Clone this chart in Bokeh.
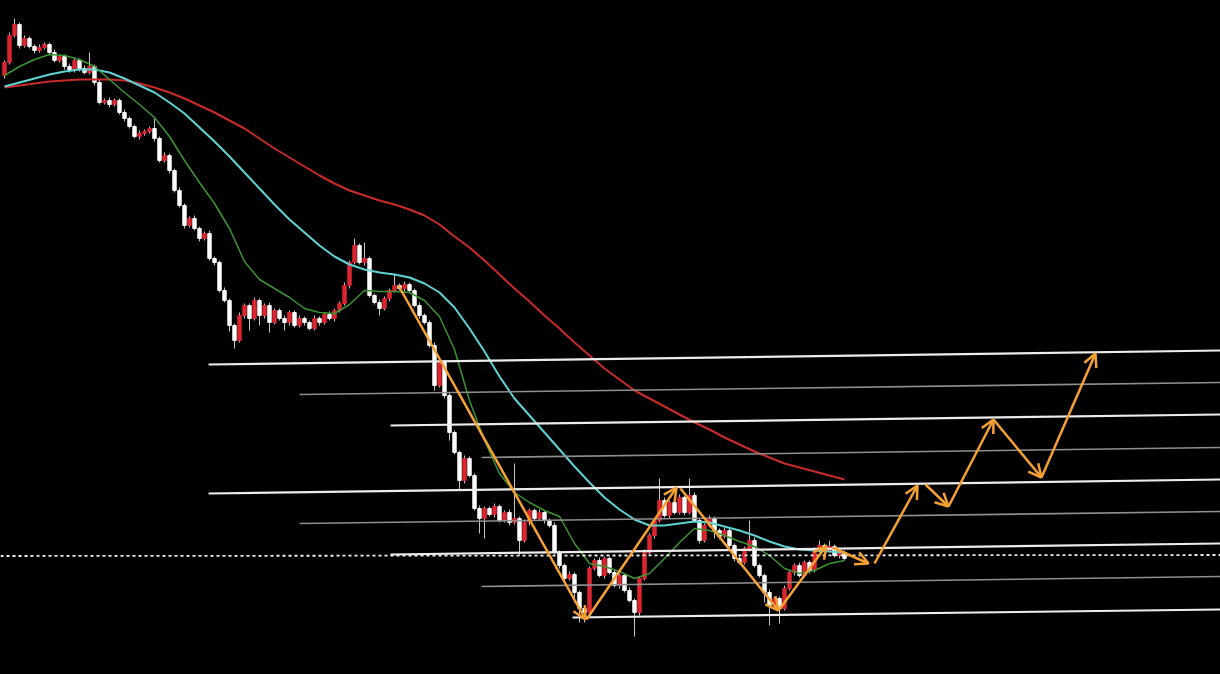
from bokeh.plotting import figure
from bokeh.models import Range1d, ColumnDataSource, Arrow, OpenHead
from bokeh.embed import file_html
from bokeh.resources import INLINE

# ---------------- data (price units) ----------------
first_open = 625
closes = [
    638, 665, 676, 655, 662, 654, 650, 653, 656, 648,
    640, 644, 634, 630, 640, 632, 628, 634, 618, 598,
    600, 596, 600, 588, 582, 574, 564, 567, 569, 572,
    562, 540, 545, 530, 510, 495, 475, 482, 472, 462,
    467, 442, 438, 410, 400, 375, 360, 385, 395, 382,
    400, 385, 395, 378, 390, 382, 378, 388, 375, 382,
    378, 372, 382, 378, 386, 382, 390, 397, 415, 438,
    455, 438, 442, 405, 398, 392, 402, 410, 415, 412,
    416, 410, 395, 385, 378, 355, 315, 338, 305, 268,
    248, 220, 242, 225, 192, 182, 192, 186, 194, 180,
    188, 178, 182, 160, 178, 190, 182, 188, 180, 175,
    148, 135, 122, 126, 108, 92, 88, 132, 140, 125,
    142, 128, 115, 125, 110, 100, 88, 122, 148, 165,
    180, 200, 185, 198, 188, 203, 188, 205, 180, 160,
    175, 182, 170, 164, 170, 155, 142, 138, 152, 160,
    135, 125, 108, 95, 102, 92, 112, 128, 135, 125,
    138, 130, 150, 155, 150, 154, 145, 148, 142,
]
upper_wick = [
    2, 3, 6, 2, 3, 2, 2, 3, 2, 2,
    3, 2, 2, 3, 2, 2, 3, 14, 2, 3,
    2, 3, 2, 2, 3, 2, 2, 3, 2, 2,
    10, 2, 3, 2, 2, 3, 2, 2, 3, 2,
    2, 3, 2, 2, 3, 2, 2, 3, 2, 2,
    3, 2, 2, 3, 2, 2, 3, 2, 2, 3,
    2, 2, 3, 2, 2, 3, 2, 2, 3, 2,
    7, 2, 16, 2, 2, 3, 2, 2, 12, 2,
    3, 2, 2, 3, 2, 2, 3, 2, 2, 3,
    2, 2, 3, 2, 2, 3, 2, 2, 3, 2,
    2, 3, 55, 2, 3, 2, 2, 3, 2, 2,
    3, 2, 2, 3, 2, 2, 3, 2, 2, 3,
    2, 2, 3, 2, 2, 3, 2, 2, 3, 2,
    2, 22, 3, 2, 2, 3, 2, 17, 3, 2,
    2, 3, 2, 2, 3, 2, 2, 3, 2, 20,
    3, 2, 2, 3, 2, 2, 3, 2, 2, 3,
    2, 2, 3, 5, 2, 6, 2, 3, 2,
]
lower_wick = [
    3, 2, 2, 3, 2, 2, 3, 2, 2, 3,
    2, 2, 3, 2, 2, 3, 2, 2, 3, 2,
    2, 3, 2, 2, 3, 2, 2, 3, 2, 2,
    3, 2, 2, 3, 2, 2, 3, 2, 2, 3,
    2, 2, 3, 2, 2, 6, 8, 2, 3, 12,
    2, 10, 3, 10, 2, 2, 8, 3, 2, 2,
    3, 2, 2, 3, 2, 2, 3, 2, 2, 3,
    2, 2, 3, 2, 2, 7, 2, 3, 2, 2,
    3, 2, 2, 3, 2, 2, 5, 2, 3, 8,
    2, 10, 3, 2, 2, 15, 20, 2, 3, 2,
    2, 3, 2, 15, 2, 3, 2, 2, 3, 2,
    2, 3, 2, 2, 10, 14, 10, 3, 2, 2,
    3, 2, 2, 3, 2, 2, 24, 3, 2, 2,
    3, 2, 2, 3, 2, 2, 3, 2, 2, 3,
    2, 2, 8, 3, 2, 2, 3, 2, 2, 3,
    2, 2, 10, 20, 3, 15, 2, 2, 3, 2,
    2, 3, 2, 2, 3, 2, 2, 3, 2,
]

# moving averages read every 3 bars
ma_index = list(range(0, 169, 3))
ma_slow = [613, 615, 617, 619, 620, 621, 621, 621, 620, 617,
           613, 608, 602, 595, 588, 580, 572, 562, 552, 543,
           534, 525, 517, 510, 505, 500, 496, 491, 485, 476,
           464, 453, 440, 426, 412, 399, 385, 372, 358, 345,
           332, 321, 310, 302, 294, 286, 278, 271, 263, 256,
           249, 243, 237, 233, 229, 225, 221]
ma_mid = [614, 618, 622, 626, 629, 631, 631, 628, 622, 615,
          608, 598, 587, 573, 559, 544, 528, 512, 496, 481,
          468, 455, 444, 436, 431, 428, 426, 423, 417, 408,
          393, 372, 349, 324, 302, 285, 268, 251, 234, 218,
          203, 191, 181, 175, 175, 177, 179, 178, 174, 170,
          165, 159, 154, 151, 150, 149, 148]
ma_fast = [625, 634, 641, 646, 645, 641, 634, 621, 608, 596,
           583, 564, 540, 518, 497, 472, 439, 421, 412, 403,
           392, 388, 387, 396, 410, 409, 409, 408, 400, 384,
           351, 300, 260, 227, 208, 198, 190, 184, 157, 137,
           134, 129, 122, 127, 142, 158, 172, 170, 165, 159,
           154, 145, 132, 127, 130, 137, 140]

# support / resistance levels (start bar, start price, end price)
level_end_bar = 243.2
white_start_bar = [40.8, 77.2, 40.8, 77.2, 113.6]
white_start_price = [336, 275, 207, 146, 83]
white_end_price = [350, 286, 221, 157, 91]
gray_start_bar = [59.0, 95.4, 59.0, 95.4]
gray_start_price = [306, 243, 177, 114]
gray_end_price = [318, 253, 189, 124]
dotted_start_bar = [-0.8]
dotted_start_price = [144.5]
dotted_end_price = [145.5]

# projected path arrows
arrow_x0 = [78.8, 116.4, 135.2, 154.8, 165.6, 174.0, 184.2, 188.8, 197.8, 207.4]
arrow_y0 = [415, 81, 212, 90, 153, 137, 216, 194, 281, 223]
arrow_x1 = [116.2, 134.4, 154.8, 164.4, 172.8, 182.6, 188.8, 197.8, 207.4, 218.2]
arrow_y1 = [81, 213, 90, 155, 137, 215, 194, 281, 223, 347]

# ---------------- build ----------------
RED = "#dc2630"
WHITE = "#ffffff"
ORANGE = "#f5a133"

n = len(closes)
opens = [first_open] + closes[:-1]
idx = list(range(n))
tops = [max(o, c) for o, c in zip(opens, closes)]
bots = [min(o, c) for o, c in zip(opens, closes)]
highs = [t + w for t, w in zip(tops, upper_wick)]
lows = [b - w for b, w in zip(bots, lower_wick)]
colors = [RED if c > o else WHITE for o, c in zip(opens, closes)]

p = figure(width=1220, height=674, output_backend="svg", toolbar_location=None,
           x_range=Range1d(-0.8, 243.2), y_range=Range1d(26, 700),
           x_axis_type=None, y_axis_type=None, min_border=0)
p.background_fill_color = "black"
p.border_fill_color = "black"
p.outline_line_color = None

src = ColumnDataSource(dict(x=idx, top=tops, bottom=bots, high=highs, low=lows, color=colors))
p.segment(x0="x", y0="high", x1="x", y1="low", source=src, line_color="#c4c4c4", line_width=1)
p.vbar(x="x", width=0.68, top="top", bottom="bottom", source=src,
       fill_color="color", line_color="color", line_width=1)

p.line(ma_index, ma_slow, line_color="#c92a2a", line_width=2)
p.line(ma_index, ma_mid, line_color="#5fd3d3", line_width=2)
p.line(ma_index, ma_fast, line_color="#3c9432", line_width=1.5)

p.segment(x0=white_start_bar, y0=white_start_price,
          x1=[level_end_bar] * len(white_start_bar), y1=white_end_price,
          line_color="#ececec", line_width=2.2)
p.segment(x0=gray_start_bar, y0=gray_start_price,
          x1=[level_end_bar] * len(gray_start_bar), y1=gray_end_price,
          line_color="#8f8f8f", line_width=1.6)
p.segment(x0=dotted_start_bar, y0=dotted_start_price,
          x1=[level_end_bar], y1=dotted_end_price,
          line_color="#f0f0f0", line_width=1.8, line_dash="3 3")

arr_src = ColumnDataSource(dict(x0=arrow_x0, y0=arrow_y0, x1=arrow_x1, y1=arrow_y1))
p.add_layout(Arrow(end=OpenHead(size=13, line_color=ORANGE, line_width=2.5),
                   x_start="x0", y_start="y0", x_end="x1", y_end="y1",
                   source=arr_src, line_color=ORANGE, line_width=2.5))

html = file_html(p, INLINE)
html = html.replace("</head>", "<style>html, body { background-color: #000000; }</style></head>", 1)
open("out.html", "w").write(html)
